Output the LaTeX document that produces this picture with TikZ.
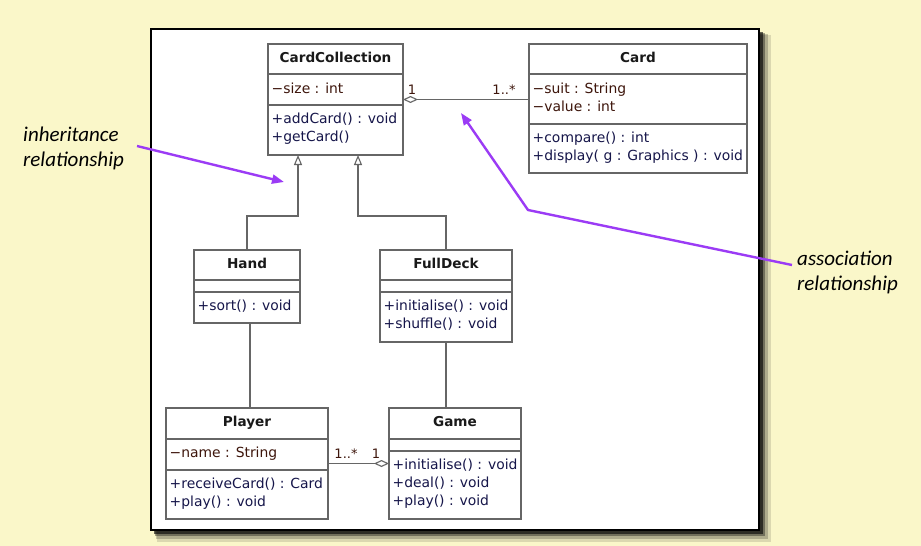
\documentclass[tikz,border=0pt]{standalone}
\usepackage{fontspec}
\setmainfont{DejaVu Sans}
\newfontfamily\annfont{Carlito}
\usetikzlibrary{arrows.meta}
\definecolor{bg}{HTML}{FAF7C9}
\definecolor{boxgray}{HTML}{666666}
\definecolor{attrcol}{HTML}{3E160C}
\definecolor{methcol}{HTML}{16164A}
\definecolor{purp}{HTML}{9B3BF5}
\newcommand{\umlbox}[8]{%
  \node[cls, minimum width={#4-#2}, minimum height={#7-#3}] (#1) at ({(#2+#4)/2},{(#3+#7)/2}) {};
  \draw[divline] (#2,#5) -- (#4,#5);
  \draw[divline] (#2,#6) -- (#4,#6);
  \node[ttl] (#1-t) at ({(#2+#4)/2},{#3+18.5}) {#8};
}
\begin{document}
\begin{tikzpicture}[x=1pt,y=-1pt,
  cls/.style={draw=boxgray, line width=1.1pt, fill=white, inner sep=0pt, outer sep=0pt},
  divline/.style={draw=boxgray, line width=1.1pt},
  ttl/.style={font=\bfseries\fontsize{13.6}{16}\selectfont, text=black!90, anchor=base, inner sep=0pt},
  attr/.style={font=\fontsize{13.9}{16}\selectfont, text=attrcol, anchor=base west, inner sep=0pt},
  meth/.style={font=\fontsize{13.9}{16}\selectfont, text=methcol, anchor=base west, inner sep=0pt},
  mult/.style={font=\fontsize{13}{14}\selectfont, text=attrcol, anchor=base, inner sep=0pt},
  inh/.style={draw=boxgray, line width=1.1pt, -{Triangle[open, fill=white, length=10pt, width=8pt]}},
  aggstart/.style={draw=boxgray, line width=1.1pt, {Diamond[open, fill=white, length=15pt, width=7pt]}-},
  aggend/.style={draw=boxgray, line width=1.1pt, -{Diamond[open, fill=white, length=15pt, width=7pt]}},
  plain/.style={draw=boxgray, line width=1.1pt},
  ann/.style={font=\annfont\itshape\fontsize{21}{25}\selectfont, text=black, anchor=base west, inner sep=0pt},
  callout/.style={draw=purp, line width=2.4pt, line join=round, -{Triangle[length=12pt, width=9pt]}}
]
% background and panel
\fill[bg] (0,0) rectangle (921,546);
\useasboundingbox (0,0) rectangle (921,546);
\fill[black, opacity=0.12] (157,35) rectangle (771,542);
\fill[black, opacity=0.2] (156,34) rectangle (768,539);
\fill[black, opacity=0.35] (155,33) rectangle (765,536);
\fill[black, opacity=0.6] (154,32) rectangle (763,534);
\draw[fill=white, draw=black, line width=1.5pt] (151,29) rectangle (759,530);

% classes
\umlbox{cc}{268}{44}{403}{74}{105}{155}{CardCollection}
\node[attr] (cc-a1) at (271.5,93) {−size : int};
\node[meth] (cc-m1) at (271.5,123) {+addCard() : void};
\node[meth] (cc-m2) at (271.5,141) {+getCard()};

\umlbox{card}{529}{44}{747}{74}{124}{173}{Card}
\node[attr] (card-a1) at (532.5,93) {−suit : String};
\node[attr] (card-a2) at (532.5,111) {−value : int};
\node[meth] (card-m1) at (532.5,142) {+compare() : int};
\node[meth] (card-m2) at (532.5,160) {+display( g : Graphics ) : void};

\umlbox{hand}{194}{250}{300}{280}{292}{323}{Hand}
\node[meth] (hand-m1) at (197.5,310) {+sort() : void};

\umlbox{fd}{380}{250}{512}{280}{292}{342}{FullDeck}
\node[meth] (fd-m1) at (383.5,310) {+initialise() : void};
\node[meth] (fd-m2) at (383.5,328) {+shuffle() : void};

\umlbox{player}{166}{408}{328}{439}{470}{519}{Player}
\node[attr] (player-a1) at (169.5,457) {−name : String};
\node[meth] (player-m1) at (169.5,488) {+receiveCard() : Card};
\node[meth] (player-m2) at (169.5,506) {+play() : void};

\umlbox{game}{389}{408}{521}{439}{451}{519}{Game}
\node[meth] (game-m1) at (392.5,469) {+initialise() : void};
\node[meth] (game-m2) at (392.5,487) {+deal() : void};
\node[meth] (game-m3) at (392.5,505) {+play() : void};

% inheritance
\draw[inh] (hand.north) -- (hand.north |- 0,216) -| ([xshift=-37.5pt]cc.south);
\draw[inh] (fd.north) -- (fd.north |- 0,216) -| ([xshift=22.5pt]cc.south);

% associations
\draw[plain] ([xshift=3pt]hand.south) -- ([xshift=3pt]hand.south |- player.north);
\draw[plain] (fd.south) -- (fd.south |- game.north);
\draw[aggstart] (cc.east) -- (cc.east -| card.west);
\draw[aggend] (player.east) -- (player.east -| game.west);

% multiplicities
\node[mult] (m1) at (412,94) {1};
\node[mult] (m2) at (504,94) {1..*};
\node[mult] (m3) at (346,458) {1..*};
\node[mult] (m4) at (376,458) {1};

% annotations
\node[ann] (inh1) at (23,141) {inheritance};
\node[ann] (inh2) at (23,166) {relationship};
\node[ann] (ass1) at (797,265) {association};
\node[ann] (ass2) at (797,290) {relationship};

\coordinate (ia) at (137,146);
\coordinate (ib) at (284,182);
\draw[callout] (ia) -- (ib);
\coordinate (aa) at (792,265);
\coordinate (ab) at (528,210);
\coordinate (ac) at (461,113);
\draw[callout] (aa) -- (ab) -- (ac);
\end{tikzpicture}
\end{document}
